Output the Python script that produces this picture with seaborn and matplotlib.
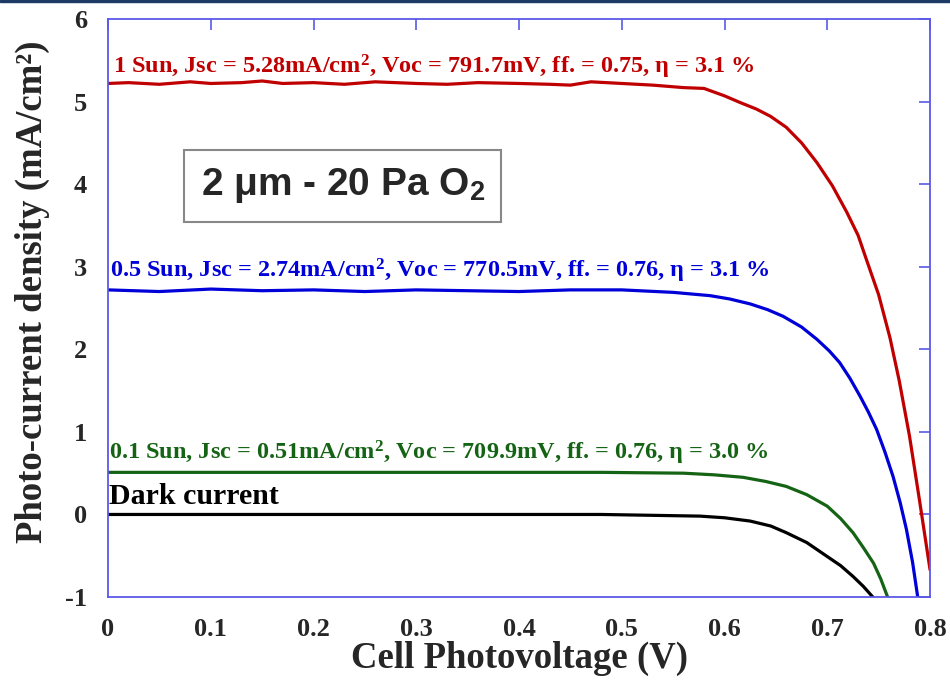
import numpy as np
import pandas as pd
import matplotlib
matplotlib.use("Agg")
import matplotlib.pyplot as plt
from matplotlib.patches import Rectangle
import seaborn as sns

# J-V curves (V in volts, J in mA/cm^2)
v_1sun = [0.0, 0.02, 0.05, 0.08, 0.10, 0.13, 0.15, 0.17, 0.20, 0.23, 0.26, 0.30,
          0.33, 0.36, 0.40, 0.43, 0.45, 0.47, 0.50, 0.53, 0.56, 0.58, 0.60, 0.615,
          0.631, 0.645, 0.66, 0.675, 0.69, 0.705, 0.719, 0.73, 0.738, 0.75, 0.761,
          0.77, 0.78, 0.79, 0.80]
j_1sun = [5.22, 5.23, 5.21, 5.24, 5.22, 5.23, 5.25, 5.22, 5.23, 5.21, 5.24, 5.22,
          5.21, 5.23, 5.22, 5.21, 5.20, 5.24, 5.22, 5.20, 5.17, 5.16, 5.07, 4.99,
          4.91, 4.82, 4.69, 4.50, 4.26, 3.98, 3.66, 3.38, 3.09, 2.66, 2.14,
          1.62, 0.95, 0.15, -0.67]

v_half = [0.0, 0.05, 0.10, 0.15, 0.20, 0.25, 0.30, 0.35, 0.40, 0.45, 0.50, 0.55,
          0.586, 0.605, 0.625, 0.642, 0.657, 0.675, 0.69, 0.702, 0.712, 0.722,
          0.732, 0.740, 0.748, 0.756, 0.764, 0.771, 0.777, 0.783, 0.788]
j_half = [2.72, 2.70, 2.73, 2.71, 2.72, 2.70, 2.72, 2.71, 2.70, 2.72, 2.72, 2.69,
          2.65, 2.61, 2.55, 2.48, 2.40, 2.27, 2.12, 1.98, 1.84, 1.65,
          1.43, 1.24, 1.03, 0.76, 0.46, 0.14, -0.18, -0.58, -1.0]

v_tenth = [0.0, 0.10, 0.20, 0.30, 0.40, 0.48, 0.56, 0.59, 0.618, 0.64, 0.66, 0.68,
           0.70, 0.713, 0.725, 0.735, 0.745, 0.752, 0.759]
j_tenth = [0.51, 0.51, 0.51, 0.51, 0.51, 0.51, 0.50, 0.48, 0.45, 0.40, 0.34, 0.24,
           0.10, -0.05, -0.22, -0.40, -0.59, -0.78, -1.01]

v_dark = [0.0, 0.10, 0.20, 0.30, 0.40, 0.48, 0.576, 0.60, 0.625, 0.645, 0.66, 0.68,
          0.70, 0.713, 0.725, 0.735, 0.745]
j_dark = [0.0, 0.0, 0.0, 0.0, 0.0, 0.0, -0.02, -0.04, -0.08, -0.14, -0.22, -0.34,
          -0.51, -0.62, -0.75, -0.87, -1.01]

labels = [
    "1 Sun, Jsc = 5.28mA/cm$^{2}$, Voc = 791.7mV, ff. = 0.75, η = 3.1 %",
    "0.5 Sun, Jsc = 2.74mA/cm$^{2}$, Voc = 770.5mV, ff. = 0.76, η = 3.1 %",
    "0.1 Sun, Jsc = 0.51mA/cm$^{2}$, Voc = 709.9mV, ff. = 0.76, η = 3.0 %",
    "Dark current",
]
x_ticks = [0, 0.1, 0.2, 0.3, 0.4, 0.5, 0.6, 0.7, 0.8]
x_ticklabels = ["0", "0.1", "0.2", "0.3", "0.4", "0.5", "0.6", "0.7", "0.8"]
y_ticks = [-1, 0, 1, 2, 3, 4, 5, 6]

sns.set_theme(style="white")
plt.rcParams["font.family"] = ["Liberation Serif", "DejaVu Serif"]
plt.rcParams["font.weight"] = "bold"
plt.rcParams["axes.unicode_minus"] = False
plt.rcParams["mathtext.fontset"] = "custom"
plt.rcParams["mathtext.rm"] = "Liberation Serif:bold"
plt.rcParams["mathtext.it"] = "Liberation Serif:bold"
plt.rcParams["mathtext.bf"] = "Liberation Serif:bold"
plt.rcParams["mathtext.sf"] = "Liberation Sans:bold"

fig = plt.figure(figsize=(9.5, 6.81), dpi=100)
ax = fig.add_axes([0.1137, 0.1233, 0.8653, 0.8487])

# thin title band across the top of the slide
fig.patches.append(Rectangle((0, 0.997), 1, 0.003, transform=fig.transFigure,
                             color="#1d3a66", zorder=0))

series = [
    (v_1sun, j_1sun, "#c00000"),
    (v_half, j_half, "#0000d8"),
    (v_tenth, j_tenth, "#156415"),
    (v_dark, j_dark, "#000000"),
]
for v, j, c in series:
    df = pd.DataFrame({"V": v, "J": j})
    sns.lineplot(data=df, x="V", y="J", color=c, linewidth=2.3, ax=ax,
                 estimator=None, sort=False)

ax.set_xlim(0, 0.8)
ax.set_ylim(-1, 6)
ax.set_xticks(x_ticks)
ax.set_xticklabels(x_ticklabels)
ax.set_yticks(y_ticks)

spine_color = "#5a5ae6"
for s in ax.spines.values():
    s.set_color(spine_color)
    s.set_linewidth(1.3)
ax.tick_params(direction="in", length=8, width=1.2, color=spine_color,
               top=True, right=True, labelsize=19)
ax.tick_params(axis="x", pad=15)
ax.tick_params(axis="y", pad=15)
for t in ax.get_xticklabels() + ax.get_yticklabels():
    t.set_fontweight("bold")

ax.set_xlabel("Cell Photovoltage (V)", fontsize=26.5, fontweight="bold", labelpad=0)
ax.set_ylabel("Photo-current density (mA/cm²)", fontsize=26.5, fontweight="bold")
ax.yaxis.set_label_coords(-0.071, 0.528)

ax.text(0.005, 5.42, labels[0], color="#c00000", fontsize=17.5, va="center",
        fontweight="bold")
ax.text(0.002, 2.95, labels[1], color="#0000d8", fontsize=17.5, va="center",
        fontweight="bold")
ax.text(0.001, 0.75, labels[2], color="#156415", fontsize=17.5, va="center",
        fontweight="bold")
ax.text(0.001, 0.22, labels[3], color="#000000", fontsize=21.5, va="center",
        fontweight="bold")

ax.text(0.2286, 3.98, "2 μm - 20 Pa O$_\\mathsf{2}$", fontsize=28,
        family=["Liberation Sans", "DejaVu Sans"], fontweight="bold",
        ha="center", va="center",
        bbox=dict(boxstyle="square,pad=0.42", facecolor="white",
                  edgecolor="#888888", linewidth=1.5))

fig.savefig("out.png", dpi=100)
